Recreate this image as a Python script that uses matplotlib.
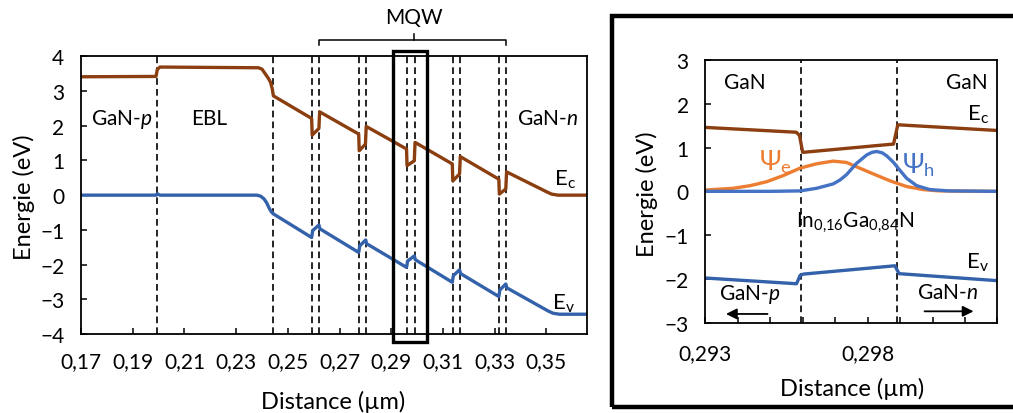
import matplotlib
matplotlib.use('Agg')
import matplotlib.pyplot as plt
from matplotlib.patches import Rectangle, ConnectionPatch

plt.rcParams['font.family'] = ['Lato', 'DejaVu Sans']
plt.rcParams['mathtext.fontset'] = 'custom'
plt.rcParams['mathtext.rm'] = 'Lato'
plt.rcParams['mathtext.it'] = 'Lato:italic'

# Données : structure complète
ec_x = [0.1700, 0.1990, 0.1995, 0.2005, 0.2386, 0.2400, 0.2412, 0.2425, 0.2433, 0.2440, 0.2444,
        0.2592, 0.2594, 0.2620, 0.2623,
        0.2774, 0.2776, 0.2800, 0.2803,
        0.2959, 0.2961, 0.2989, 0.2992,
        0.3136, 0.3138, 0.3164, 0.3167,
        0.3316, 0.3318, 0.3343, 0.3346,
        0.3500, 0.3520, 0.3545, 0.3656]
ec_y = [3.41, 3.42, 3.62, 3.69, 3.67, 3.63, 3.50, 3.36, 3.25, 3.05, 2.86,
        2.21, 1.73, 1.92, 2.40,
        1.76, 1.28, 1.47, 1.98,
        1.33, 0.85, 0.99, 1.52,
        0.90, 0.41, 0.61, 1.11,
        0.46, 0.03, 0.18, 0.67,
        0.10, 0.03, 0.00, 0.00]

ev_x = [0.1700, 0.1990, 0.1995, 0.2005, 0.2380, 0.2395, 0.2408, 0.2418, 0.2428, 0.2436, 0.2444,
        0.2592, 0.2596, 0.2620, 0.2624,
        0.2774, 0.2778, 0.2801, 0.2805,
        0.2959, 0.2963, 0.2989, 0.2993,
        0.3136, 0.3140, 0.3164, 0.3168,
        0.3316, 0.3320, 0.3343, 0.3347,
        0.3505, 0.3525, 0.3550, 0.3656]
ev_y = [0.00, 0.00, 0.04, 0.00, 0.00, -0.03, -0.11, -0.22, -0.38, -0.48, -0.54,
        -1.22, -1.02, -0.86, -0.97,
        -1.65, -1.46, -1.29, -1.40,
        -2.08, -1.90, -1.75, -1.86,
        -2.51, -2.32, -2.15, -2.26,
        -2.92, -2.73, -2.56, -2.67,
        -3.33, -3.40, -3.43, -3.43]

interfaces = [0.1995, 0.2441, 0.2593, 0.2621, 0.2775, 0.2801, 0.2960, 0.2990,
              0.3137, 0.3165, 0.3317, 0.3344]
x_ticks = [0.17, 0.19, 0.21, 0.23, 0.25, 0.27, 0.29, 0.31, 0.33, 0.35]
x_labels = ['0,17', '0,19', '0,21', '0,23', '0,25', '0,27', '0,29', '0,31', '0,33', '0,35']

# Zoom sur le puits central
z_ec_x = [0.29300, 0.29580, 0.29590, 0.29600, 0.29880, 0.29893, 0.30200]
z_ec_y = [1.46, 1.35, 1.28, 0.89, 1.08, 1.52, 1.39]
z_ev_x = [0.29300, 0.29581, 0.29592, 0.29602, 0.29884, 0.29897, 0.30200]
z_ev_y = [-1.98, -2.11, -1.92, -1.89, -1.70, -1.88, -2.04]

psi_e_x = [0.29300, 0.29386, 0.29438, 0.29489, 0.29540, 0.29592, 0.29643, 0.29694, 0.29735,
           0.29766, 0.29817, 0.29869, 0.29920, 0.29971, 0.30020, 0.30200]
psi_e_y = [0.03, 0.07, 0.13, 0.22, 0.36, 0.53, 0.63, 0.69, 0.66,
           0.56, 0.40, 0.24, 0.11, 0.04, 0.01, 0.00]
psi_h_x = [0.29300, 0.29500, 0.29592, 0.29643, 0.29694, 0.29715, 0.29735, 0.29766, 0.29797,
           0.29813, 0.29828, 0.29845, 0.29859, 0.29880, 0.29894, 0.29920, 0.29951, 0.29992,
           0.30050, 0.30200]
psi_h_y = [0.00, 0.00, 0.01, 0.07, 0.17, 0.26, 0.38, 0.64, 0.83,
           0.89, 0.91, 0.88, 0.81, 0.66, 0.53, 0.30, 0.13, 0.04,
           0.01, 0.00]

z_interfaces = [0.29595, 0.29892]
z_ticks = [0.293, 0.294, 0.295, 0.296, 0.297, 0.298, 0.299, 0.300, 0.301, 0.302]
z_labels = ['0,293', '', '', '', '', '0,298', '', '', '', '']

C_EC = '#8B3E10'
C_EV = '#3361AA'
C_PE = '#ED7D31'
C_PH = '#4472C4'

fig = plt.figure(figsize=(10.13, 4.14), dpi=100)
ax1 = fig.add_axes([0.0800, 0.1908, 0.4992, 0.6708])
ax2 = fig.add_axes([0.6963, 0.2181, 0.2883, 0.6346])


def style_axes(ax):
    for s in ax.spines.values():
        s.set_linewidth(1.3)
    ax.tick_params(direction='in', length=4, width=1.1, labelsize=15, pad=12)


# --- panneau gauche ---
for xv in interfaces:
    ax1.axvline(xv, color='black', lw=1.2, ls=(0, (4, 2.5)))
ax1.plot(ec_x, ec_y, color=C_EC, lw=2.4, solid_joinstyle='round')
ax1.plot(ev_x, ev_y, color=C_EV, lw=2.4, solid_joinstyle='round')
ax1.set_xlim(0.17, 0.3656)
ax1.set_ylim(-4, 4)
ax1.set_yticks(range(-4, 5))
ax1.set_xticks(x_ticks)
ax1.set_xticklabels(x_labels)
style_axes(ax1)
ax1.set_xlabel('Distance (µm)', fontsize=17)
ax1.set_ylabel('Energie (eV)', fontsize=17)
ax1.xaxis.set_label_coords(0.498, -0.24)
ax1.yaxis.set_label_coords(-0.112, 0.498)
ax1.xaxis.label.set_va('center')
ax1.yaxis.label.set_va('center')

ax1.text(0.1857, 2.22, r'GaN-$\mathit{p}$', fontsize=15, ha='center', va='center')
ax1.text(0.2196, 2.22, 'EBL', fontsize=15, ha='center', va='center')
ax1.text(0.3505, 2.22, r'GaN-$\mathit{n}$', fontsize=15, ha='center', va='center')
ax1.text(0.3571, 0.46, r'E$_\mathregular{c}$', fontsize=16, ha='center', va='center')
ax1.text(0.3564, -3.09, r'E$_\mathregular{v}$', fontsize=16, ha='center', va='center')

# accolade MQW
ax1.plot([0.2622, 0.2622, 0.3344, 0.3344], [4.33, 4.48, 4.48, 4.33], color='black', lw=1.1, clip_on=False)
ax1.plot([0.2986, 0.2986], [4.48, 4.64], color='black', lw=1.1, clip_on=False)
ax1.text(0.2986, 5.12, 'MQW', fontsize=15, ha='center', va='center')

# cadre de zoom
ax1.add_patch(Rectangle((0.2908, -4.22), 0.0131, 8.38, fill=False, ec='black', lw=2.4, clip_on=False, zorder=5))

# --- panneau droit ---
for xv in z_interfaces:
    ax2.axvline(xv, color='black', lw=1.2, ls=(0, (4, 2.5)))
ax2.plot(z_ec_x, z_ec_y, color=C_EC, lw=2.4)
ax2.plot(z_ev_x, z_ev_y, color=C_EV, lw=2.4)
ax2.plot(psi_e_x, psi_e_y, color=C_PE, lw=2.4)
ax2.plot(psi_h_x, psi_h_y, color=C_PH, lw=2.4)
ax2.set_xlim(0.293, 0.302)
ax2.set_ylim(-3, 3)
ax2.set_yticks(range(-3, 4))
ax2.set_xticks(z_ticks)
ax2.set_xticklabels(z_labels)
style_axes(ax2)
ax2.tick_params(axis='x', pad=15)
ax2.set_xlabel('Distance (µm)', fontsize=17)
ax2.set_ylabel('Energie (eV)', fontsize=17)
ax2.xaxis.set_label_coords(0.501, -0.25)
ax2.yaxis.set_label_coords(-0.20, 0.494)
ax2.xaxis.label.set_va('center')
ax2.yaxis.label.set_va('center')

ax2.text(0.29422, 2.5, 'GaN', fontsize=15, ha='center', va='center')
ax2.text(0.30105, 2.5, 'GaN', fontsize=15, ha='center', va='center')
ax2.text(0.3014, 1.77, r'E$_\mathregular{c}$', fontsize=16, ha='center', va='center')
ax2.text(0.3014, -1.60, r'E$_\mathregular{v}$', fontsize=16, ha='center', va='center')
ax2.text(0.29515, 0.70, r'Ψ$_\mathregular{e}$', fontsize=19, color=C_PE, ha='center', va='center')
ax2.text(0.29956, 0.63, r'Ψ$_\mathregular{h}$', fontsize=19, color=C_PH, ha='center', va='center')
ax2.text(0.29761, -0.80, r'In$_\mathregular{0{,}16}$Ga$_\mathregular{0{,}84}$N', fontsize=15,
         ha='center', va='baseline')
ax2.text(0.29438, -2.34, r'GaN-$\mathit{p}$', fontsize=15, ha='center', va='center')
ax2.text(0.30048, -2.29, r'GaN-$\mathit{n}$', fontsize=15, ha='center', va='center')
ax2.annotate('', xy=(0.29355, -2.80), xytext=(0.2950, -2.80),
             arrowprops=dict(arrowstyle='-|>', color='black', lw=1.3, mutation_scale=16))
ax2.annotate('', xy=(0.30135, -2.74), xytext=(0.29967, -2.74),
             arrowprops=dict(arrowstyle='-|>', color='black', lw=1.3, mutation_scale=16))

# cadre du zoom et lignes de liaison
fig.patches.append(Rectangle((0.6038, 0.0138), 0.45, 0.9444, transform=fig.transFigure,
                             fill=False, ec='black', lw=3.2))
for ya, yb in [(4.16, 0.9582), (-4.22, 0.0138)]:
    con = ConnectionPatch(xyA=(0.3039, ya), coordsA='data', axesA=ax1,
                          xyB=(0.6038, yb), coordsB='figure fraction',
                          color='black', lw=1.3)
    fig.add_artist(con)

plt.savefig('out.png', dpi=100)
plt.close()
